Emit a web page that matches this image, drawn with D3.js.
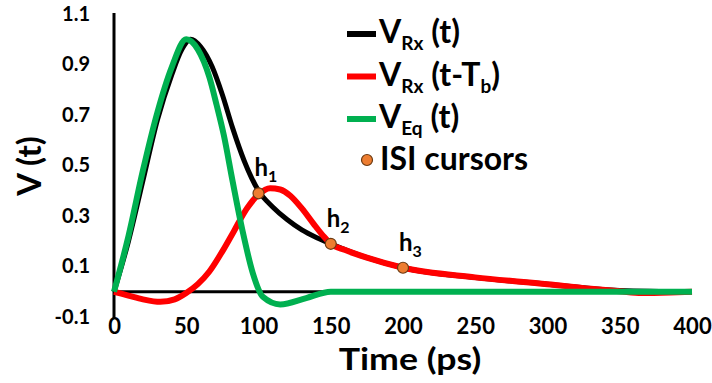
<!DOCTYPE html>
<html>
<head>
<meta charset="utf-8">
<script src="https://cdn.jsdelivr.net/npm/d3@7"></script>
<style>
body { margin: 0; background: #fff; }
text { font-family: Lato, "Open Sans", sans-serif; font-weight: bold; fill: #000; }
</style>
</head>
<body>
<script>
// time in ps, voltage normalised
var rxTime = [0, 10, 20, 30, 40, 47, 53, 60, 68, 75, 82, 90, 100, 110, 120, 130, 140, 150, 175, 200, 250, 300, 350, 400];
var rxVal  = [0, 0.2, 0.44, 0.68, 0.86, 0.96, 1.0, 0.97, 0.89, 0.78, 0.65, 0.52, 0.4, 0.335, 0.285, 0.245, 0.215, 0.19, 0.135, 0.095, 0.056, 0.03, 0.005, 0];

var shTime = [0, 10, 20, 32, 42, 50, 58, 66, 75, 83, 92, 100, 108, 115, 122, 130, 138, 145, 150, 160, 175, 200, 250, 300, 330, 350, 365, 385, 400];
var shVal  = [0, -0.015, -0.03, -0.04, -0.03, -0.005, 0.03, 0.08, 0.16, 0.24, 0.33, 0.385, 0.41, 0.405, 0.38, 0.33, 0.27, 0.22, 0.19, 0.165, 0.135, 0.095, 0.057, 0.03, 0.012, 0.002, -0.005, -0.003, 0];

var eqTime = [0, 10, 20, 30, 40, 50, 58, 66, 71, 76, 82, 89, 96, 103, 115, 133, 150, 400];
var eqVal  = [0, 0.22, 0.48, 0.71, 0.89, 1.0, 0.96, 0.85, 0.74, 0.62, 0.44, 0.24, 0.075, -0.02, -0.05, -0.025, 0, 0];

var cursorTime = [100, 150, 200];
var cursorVal  = [0.39, 0.19, 0.095];
var cursorName = ["1", "2", "3"];

var xTicks = [0, 50, 100, 150, 200, 250, 300, 350, 400];
var yTicks = [-0.1, 0.1, 0.3, 0.5, 0.7, 0.9, 1.1];

var width = 712, height = 383;

var svg = d3.select("body").append("svg")
	.attr("width", width)
	.attr("height", height);

var x = d3.scaleLinear().domain([0, 400]).range([114, 692]);
var y = d3.scaleLinear().domain([-0.1, 1.1]).range([317, 14]);

// axes
var yAxis = svg.append("g")
	.attr("transform", "translate(" + x(0) + ",0)")
	.call(d3.axisLeft(y).tickValues(yTicks).tickSize(0).tickSizeOuter(0).tickPadding(24)
		.tickFormat(d => d.toFixed(1)));
yAxis.select(".domain").remove();
yAxis.selectAll("text").style("font-size", "20px").style("font-family", "Lato, sans-serif");

var xAxis = svg.append("g")
	.attr("transform", "translate(0," + y(-0.1) + ")")
	.call(d3.axisBottom(x).tickValues(xTicks).tickSize(0).tickPadding(1));
xAxis.select(".domain").remove();
xAxis.selectAll("text").style("font-size", "22px").style("font-family", "Lato, sans-serif");

svg.append("line")
	.attr("x1", x(0)).attr("x2", x(0))
	.attr("y1", y(1.1) - 1).attr("y2", y(-0.1) + 2)
	.attr("stroke", "#000").attr("stroke-width", 3);

svg.append("line")
	.attr("x1", x(0)).attr("x2", x(400))
	.attr("y1", y(0)).attr("y2", y(0))
	.attr("stroke", "#000").attr("stroke-width", 3);

// curves
var line = d3.line()
	.x(d => x(d[0]))
	.y(d => y(d[1]))
	.curve(d3.curveMonotoneX);

var series = [
	{t: rxTime, v: rxVal, color: "#000000", w: 5},
	{t: shTime, v: shVal, color: "#ff0000", w: 6},
	{t: eqTime, v: eqVal, color: "#00b050", w: 6}
];

series.forEach(function(s) {
	svg.append("path")
		.datum(d3.zip(s.t, s.v))
		.attr("fill", "none")
		.attr("stroke", s.color)
		.attr("stroke-width", s.w)
		.attr("stroke-linejoin", "round")
		.attr("d", line);
});

// ISI cursors
var cursors = d3.zip(cursorTime, cursorVal, cursorName);
svg.selectAll("circle.cur")
	.data(cursors)
	.enter().append("circle")
	.attr("class", "cur")
	.attr("cx", d => x(d[0]))
	.attr("cy", d => y(d[1]))
	.attr("r", 5.5)
	.attr("fill", "#ed7d31")
	.attr("stroke", "#6b3a12")
	.attr("stroke-width", 1.2);

var hl = svg.selectAll("text.h")
	.data(cursors)
	.enter().append("text")
	.attr("class", "h")
	.attr("x", d => x(d[0]) - 4)
	.attr("y", d => y(d[1]) - 17)
	.style("font-size", "24px");
hl.append("tspan").text("h");
hl.append("tspan").attr("dy", 6).style("font-size", "16px").text(d => d[2]);

// titles
svg.append("text")
	.attr("transform", "translate(410,370) scale(1.15,1)")
	.attr("text-anchor", "middle")
	.style("font-size", "31px")
	.text("Time (ps)");

svg.append("text")
	.attr("transform", "translate(41,166) rotate(-90)")
	.attr("text-anchor", "middle")
	.style("font-size", "33px")
	.text("V (t)");

// legend
var legendItems = [
	{main: "V", sub: "Rx", rest: " (t)", sub2: "", end: "", color: "#000000"},
	{main: "V", sub: "Rx", rest: " (t-T", sub2: "b", end: ")", color: "#ff0000"},
	{main: "V", sub: "Eq", rest: " (t)", sub2: "", end: "", color: "#00b050"}
];

var lg = svg.append("g");
legendItems.forEach(function(d, i) {
	var by = 43 + i * 42.5;
	lg.append("line")
		.attr("x1", 347).attr("x2", 376)
		.attr("y1", by - 9).attr("y2", by - 9)
		.attr("stroke", d.color).attr("stroke-width", 6);
	var t = lg.append("text").attr("x", 379).attr("y", by).style("font-size", "32px");
	t.append("tspan").text(d.main);
	t.append("tspan").attr("dy", 7).style("font-size", "19px").text(d.sub);
	t.append("tspan").attr("dy", -7).text(d.rest);
	if (d.sub2) {
		t.append("tspan").attr("dy", 7).style("font-size", "19px").text(d.sub2);
		t.append("tspan").attr("dy", -7).text(d.end);
	}
});
lg.append("circle")
	.attr("cx", 367).attr("cy", 160).attr("r", 5.5)
	.attr("fill", "#ed7d31").attr("stroke", "#6b3a12").attr("stroke-width", 1.2);
lg.append("text").attr("x", 380).attr("y", 170).style("font-size", "32px").text("ISI cursors");
</script>
</body>
</html>
